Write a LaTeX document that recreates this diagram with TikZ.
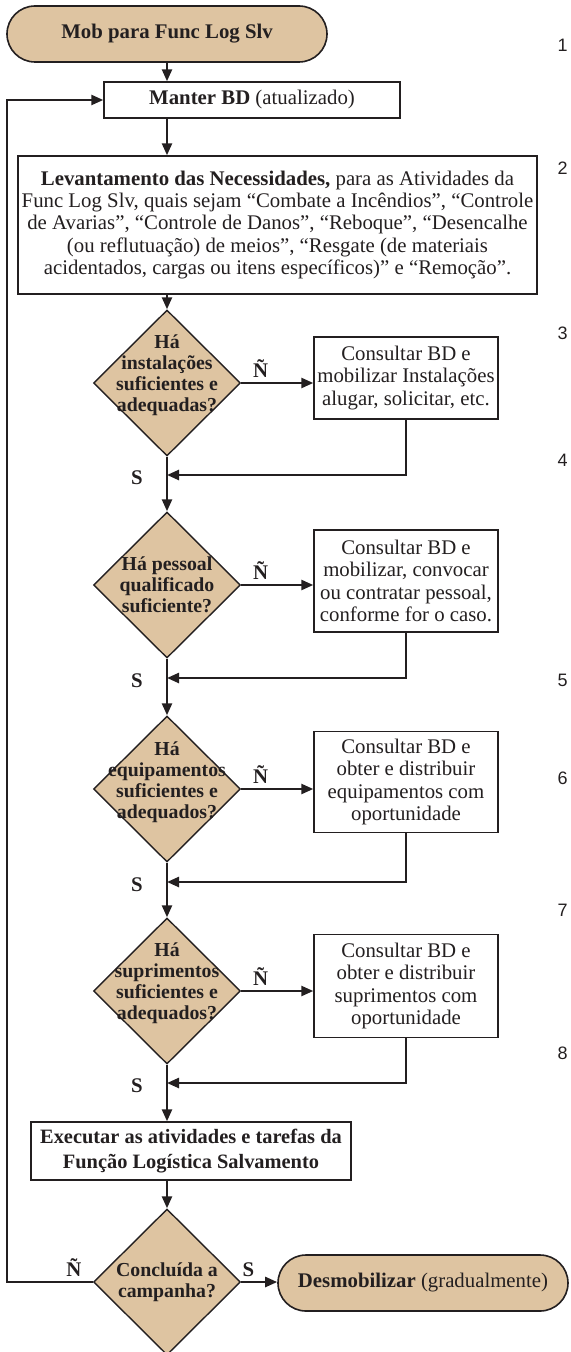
\documentclass[tikz,border=0pt]{standalone}
\usepackage{fontspec}
\setmainfont{Liberation Serif}
\newfontfamily\sidefont{Liberation Sans}
\usepackage{xcolor}
\usepackage{tikz}
\usetikzlibrary{shapes.geometric, arrows.meta, positioning, calc}

\definecolor{tanfill}{RGB}{222,196,161}
\definecolor{inkline}{RGB}{35,31,32}

\begin{document}
\begin{tikzpicture}[
        x=0.5pt, y=-0.5pt, color=inkline,
        terminal/.style={rectangle, rounded corners=14pt, draw, fill=tanfill, line width=0.8pt, minimum height=28pt, inner sep=2pt, font=\fontsize{10.4}{11.4}\selectfont},
        process/.style={rectangle, draw, fill=white, line width=0.7pt, align=center, inner sep=1.5pt, font=\fontsize{10.4}{11.2}\selectfont},
        decision/.style={diamond, aspect=1, draw, fill=tanfill, line width=0.7pt, minimum width=73.5pt, minimum height=73pt, inner sep=0pt},
        question/.style={align=center, inner sep=0pt, font=\fontsize{9.9}{10.5}\selectfont\bfseries},
        flow/.style={-{Triangle[length=6pt, width=5pt]}, line width=1.2pt},
        answer/.style={font=\fontsize{10.4}{11}\selectfont\bfseries, inner sep=1pt},
        sidenum/.style={anchor=east, inner sep=0pt, font=\sidefont\fontsize{9}{10}\selectfont}
    ]
        \useasboundingbox (0,0) rectangle (570,1352);

        % Start and data base
        \node[terminal, minimum width=160pt] (mob) at (167,34) {\textbf{Mob para Func Log Slv}};
        \node[process, minimum width=148pt, minimum height=18pt] (manter) at (252,100) {\textbf{Manter BD} (atualizado)};
        \node[process, minimum width=259.5pt, minimum height=69pt] (lev) at (277.5,225) {\textbf{Levantamento das Necessidades,} para as Atividades da\\
            Func Log Slv, quais sejam “Combate a Incêndios”, “Controle\\
            de Avarias”, “Controle de Danos”, “Reboque”, “Desencalhe\\
            (ou reflutuação) de meios”, “Resgate (de materiais\\
            acidentados, cargas ou itens específicos)” e “Remoção”.};

        % Decisions
        \node[decision] (d1) at (167,383) {};
        \node[question, yshift=4pt] (q1) at (d1) {Há\\instalações\\suficientes e\\adequadas?};
        \node[decision] (d2) at (167,585) {};
        \node[question] (q2) at (d2) {Há pessoal\\qualificado\\suficiente?};
        \node[decision] (d3) at (167,789) {};
        \node[question, yshift=3.5pt] (q3) at (d3) {Há\\equipamentos\\suficientes e\\adequados?};
        \node[decision] (d4) at (167,991) {};
        \node[question, yshift=4pt] (q4) at (d4) {Há\\suprimentos\\suficientes e\\adequados?};

        % Actions
        \node[process, minimum width=92pt, minimum height=41pt] (b1) at (406,378) {Consultar BD e\\mobilizar Instalações\\alugar, solicitar, etc.};
        \node[process, minimum width=92pt, minimum height=51pt] (b2) at (406,581) {Consultar BD e\\mobilizar, convocar\\ou contratar pessoal,\\conforme for o caso.};
        \node[process, minimum width=92pt, minimum height=50.5pt] (b3) at (406,782) {Consultar BD e\\obter e distribuir\\equipamentos com\\oportunidade};
        \node[process, minimum width=92pt, minimum height=51.5pt] (b4) at (406,986) {Consultar BD e\\obter e distribuir\\suprimentos com\\oportunidade};

        % Joins
        \coordinate (j1) at (167,475);
        \coordinate (j2) at (167,678);
        \coordinate (j3) at (167,882);
        \coordinate (j4) at (167,1083);
        \coordinate (lp) at (7,0);

        % End
        \node[process, minimum width=160pt, minimum height=29pt, font=\fontsize{10.2}{12.2}\selectfont\bfseries] (exec) at (191,1151) {Executar as atividades e tarefas da\\Função Logística Salvamento};
        \node[decision] (d5) at (167,1282) {};
        \node[question] (q5) at (d5) {Concluída a\\campanha?};
        \node[terminal, minimum width=145pt] (desm) at (423,1283) {\textbf{Desmobilizar} (gradualmente)};

        % Flow
        \draw[flow] (mob.south) -- (mob.south |- manter.north);
        \draw[flow] (manter.south -| d1.north) -- (lev.north -| d1.north);
        \draw[flow] (lev.south -| d1.north) -- (d1.north);

        \draw[flow] (d1.east) -- node[answer, above=1pt, pos=0.27] (n1) {Ñ} (d1.east -| b1.west);
        \draw[flow] (b1.south) |- (j1);
        \draw[flow] (d1.south) -- (d2.north);
        \node[answer] (s1) at (137,478) {S};

        \draw[flow] (d2.east) -- node[answer, above=1pt, pos=0.27] (n2) {Ñ} (d2.east -| b2.west);
        \draw[flow] (b2.south) |- (j2);
        \draw[flow] (d2.south) -- (d3.north);
        \node[answer] (s2) at (137,681) {S};

        \draw[flow] (d3.east) -- node[answer, above=1pt, pos=0.27] (n3) {Ñ} (d3.east -| b3.west);
        \draw[flow] (b3.south) |- (j3);
        \draw[flow] (d3.south) -- (d4.north);
        \node[answer] (s3) at (137,885) {S};

        \draw[flow] (d4.east) -- node[answer, above=1pt, pos=0.27] (n4) {Ñ} (d4.east -| b4.west);
        \draw[flow] (b4.south) |- (j4);
        \draw[flow] (d4.south) -- (d4.south |- exec.north);
        \node[answer] (s4) at (137,1086) {S};

        \draw[flow] (exec.south -| d5.north) -- (d5.north);
        \draw[flow] (d5.east) -- node[answer, above=1pt, pos=0.2] (s5) {S} (d5.east -| desm.west);
        \draw[flow] (d5.west) -- node[answer, above=1pt, pos=0.22] (n5) {Ñ} (d5.west -| lp) |- (manter.west);

        % Side numbering
        \foreach \k/\yy in {1/45, 2/168, 3/333, 4/460, 5/680, 6/778, 7/910, 8/1053}
            \node[sidenum] (num\k) at (568,\yy) {\k};

    \end{tikzpicture}
\end{document}
